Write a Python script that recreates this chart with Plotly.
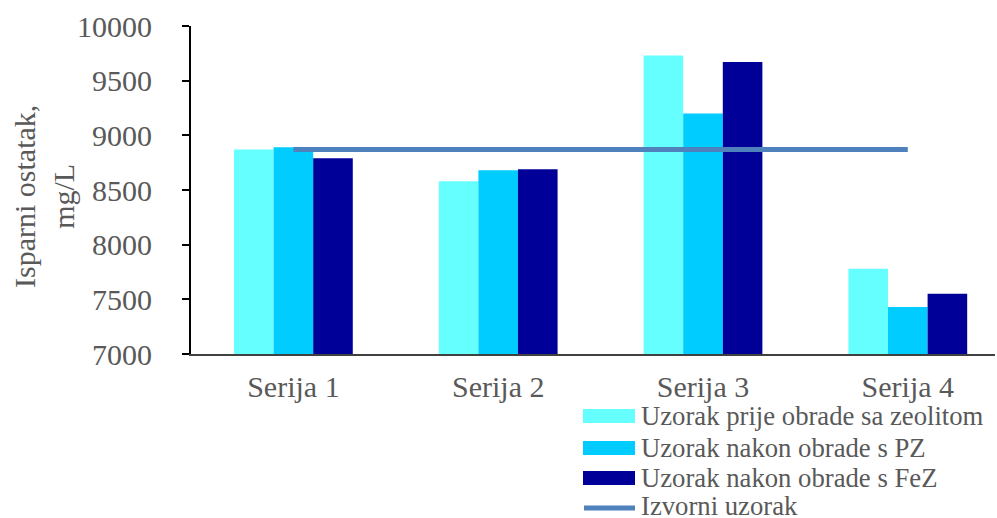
import plotly.graph_objects as go

categories = ["Serija 1", "Serija 2", "Serija 3", "Serija 4"]
prije_zeolit = [8870, 8580, 9730, 7780]
nakon_pz = [8890, 8680, 9200, 7430]
nakon_fez = [8790, 8690, 9670, 7550]
izvorni = [8870, 8870, 8870, 8870]
y_ticks = [7000, 7500, 8000, 8500, 9000, 9500, 10000]
y_tick_labels = ["7000", "7500", "8000", "8500", "9000", "9500", "10000"]

names = ["Uzorak prije obrade sa zeolitom", "Uzorak nakon obrade s PZ",
         "Uzorak nakon obrade s FeZ", "Izvorni uzorak"]
y_title = "Isparni ostatak,<br>mg/L"
bar_colors = ["#66FFFF", "#00CCFF", "#000099"]
line_color = "#4F81BD"
FONT = "Liberation Serif"
TXT = "#595959"

W, H = 997, 518
L, R, T, B = 191, 2, 26, 164

fig = go.Figure()
for name, vals, col in zip(names[:3], [prije_zeolit, nakon_pz, nakon_fez], bar_colors):
    fig.add_trace(go.Bar(x=categories, y=vals, name=name, marker_color=col,
                         marker_line_width=0, showlegend=False))
fig.add_trace(go.Scatter(x=categories, y=izvorni, name=names[3], mode="lines",
                         line=dict(color=line_color, width=5), showlegend=False))

pw = W - L - R
ph = H - T - B
def px(x):
    return (x - L) / pw
def py(y):
    return (H - B - y) / ph

# manual legend
shapes = []
annots = []
leg_y = [416, 448, 478, 506]
for i in range(4):
    if i < 3:
        shapes.append(dict(type="rect", xref="paper", yref="paper",
                           x0=px(583), x1=px(635), y0=py(leg_y[i] + 7), y1=py(leg_y[i] - 7),
                           fillcolor=bar_colors[i], line_width=0))
    else:
        shapes.append(dict(type="line", xref="paper", yref="paper",
                           x0=px(584), x1=px(635), y0=py(508), y1=py(508),
                           line=dict(color=line_color, width=5)))
    annots.append(dict(text=names[i], xref="paper", yref="paper", x=px(639), y=py(leg_y[i]),
                       xanchor="left", yanchor="middle", showarrow=False,
                       font=dict(family=FONT, size=26.7, color=TXT)))

annots.append(dict(text=y_title, xref="paper", yref="paper", x=px(44), y=py(197),
                   xanchor="center", yanchor="middle", textangle=-90, showarrow=False,
                   font=dict(family=FONT, size=30, color=TXT)))

unit = 204.8
fig.update_layout(
    width=W, height=H,
    margin=dict(l=L, r=R, t=T, b=B, pad=0),
    plot_bgcolor="white", paper_bgcolor="white",
    barmode="group", bargap=0.42, bargroupgap=0,
    font=dict(family=FONT, size=30, color=TXT),
    shapes=shapes, annotations=annots,
    xaxis=dict(range=[-0.5, -0.5 + pw / unit], showline=True, linecolor="#404040", linewidth=2,
               ticks="", showgrid=False, zeroline=False, ticklabelstandoff=5, automargin=False,
               tickfont=dict(family=FONT, size=30, color=TXT)),
    yaxis=dict(range=[7000, 10000], tickvals=y_ticks, ticktext=y_tick_labels, showline=True,
               linecolor="black", automargin=False,
               linewidth=2, ticks="outside", ticklen=7, tickwidth=2, tickcolor="black",
               showgrid=False, zeroline=False, ticklabelstandoff=24,
               tickfont=dict(family=FONT, size=30, color=TXT)),
)
fig.write_html("out.html", config={"displayModeBar": False},
               post_script="document.body.style.margin='0';document.body.style.overflow='hidden';")
